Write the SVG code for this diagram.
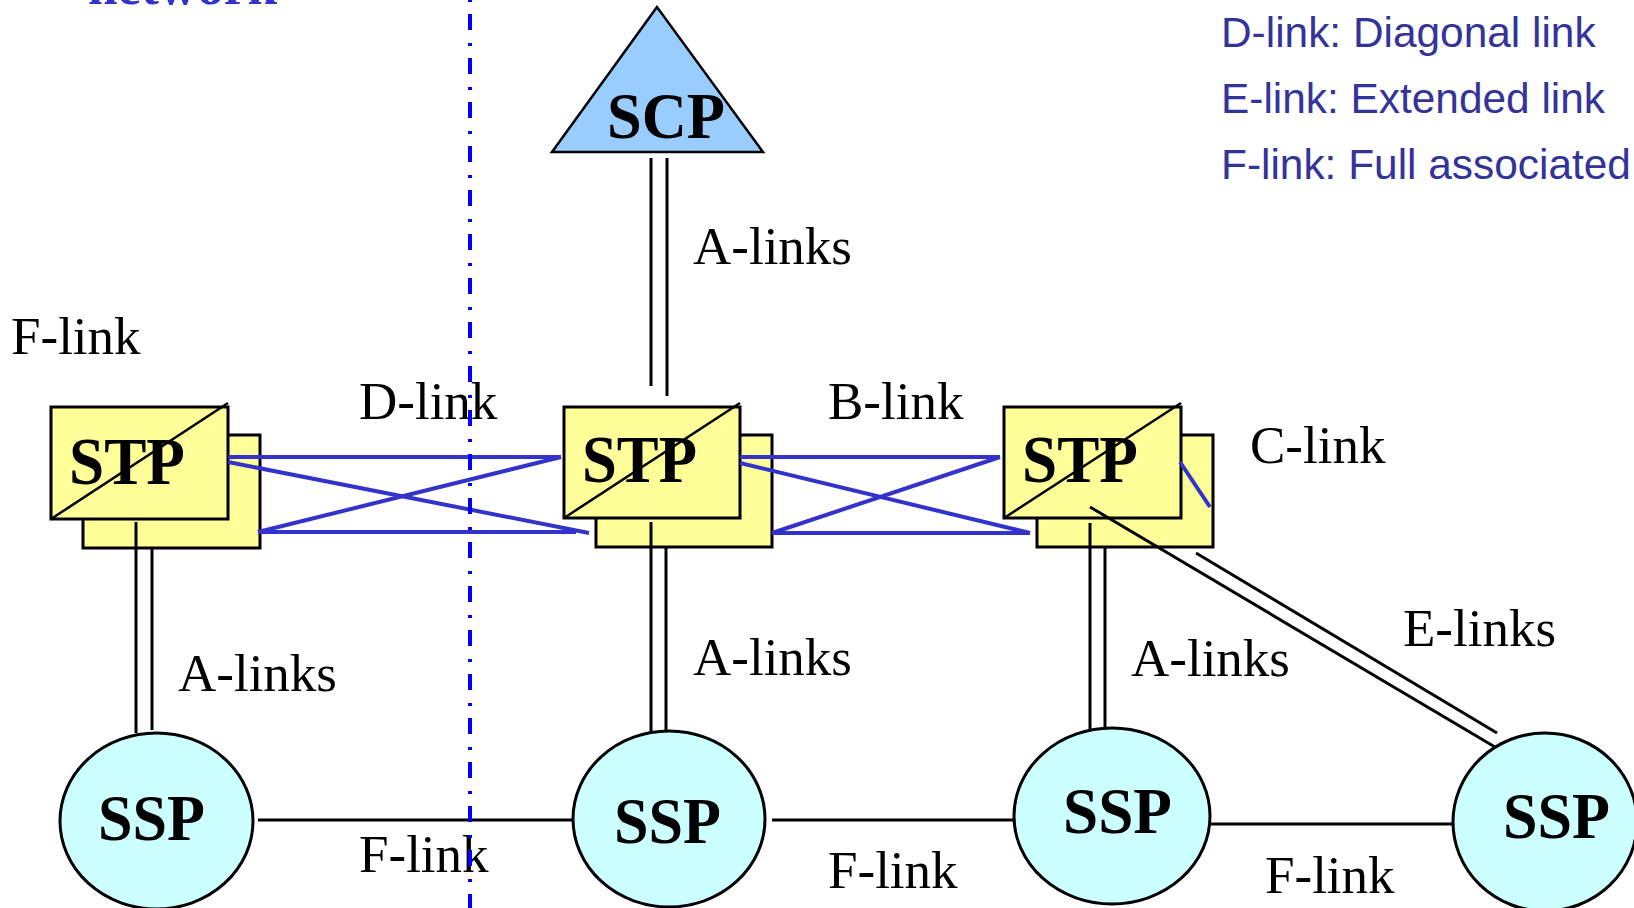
<svg xmlns="http://www.w3.org/2000/svg" width="1634" height="908" viewBox="0 0 1634 908">
<style>
.stp{fill:#ffff99;stroke:#000;stroke-width:3}
.ssp{fill:#ccffff;stroke:#000;stroke-width:3}
.scp{fill:#99ccff;stroke:#000;stroke-width:2.5}
.diag{stroke:#000;stroke-width:2.5;fill:none}
.blk{stroke:#000;stroke-width:3;fill:none}
.blu{stroke:#3333cc;stroke-width:4;fill:none}
.big{font-family:"Liberation Serif","Times New Roman",serif;font-weight:bold;fill:#000}
.lbl{font-family:"Liberation Serif","Times New Roman",serif;font-size:53px;fill:#000}
.leg{font-family:"Liberation Sans",Arial,sans-serif;font-size:42.4px;fill:#333399}
</style>
<rect width="1634" height="908" fill="#fff"/>
<text x="88" y="4" font-family="Liberation Serif, serif" font-weight="bold" font-size="53" fill="#3333cc" textLength="189" lengthAdjust="spacingAndGlyphs">network</text>

<g id="scp">
<polygon class="scp" points="657,7 552,152 763,152"/>
<text class="big" x="607" y="138" font-size="65" textLength="118" lengthAdjust="spacingAndGlyphs">SCP</text>
</g>

<g id="stp1">
<rect class="stp" x="83" y="435" width="177" height="113"/>
<rect class="stp" x="51" y="407" width="177" height="112"/>
<text class="big" x="69" y="484" font-size="68" textLength="116" lengthAdjust="spacingAndGlyphs">STP</text>
<line class="diag" x1="51" y1="519" x2="228" y2="403"/>
</g>
<g id="stp2">
<rect class="stp" x="596" y="435" width="176" height="112"/>
<rect class="stp" x="564" y="407" width="176" height="111"/>
<text class="big" x="582" y="482" font-size="68" textLength="115" lengthAdjust="spacingAndGlyphs">STP</text>
<line class="diag" x1="564" y1="518" x2="740" y2="403"/>
</g>
<g id="stp3">
<rect class="stp" x="1037" y="435" width="176" height="112"/>
<rect class="stp" x="1004" y="407" width="177" height="111"/>
<text class="big" x="1022" y="482" font-size="68" textLength="116" lengthAdjust="spacingAndGlyphs">STP</text>
<line class="diag" x1="1004" y1="518" x2="1181" y2="403"/>
</g>

<g id="connectors">
<line class="blk" x1="651" y1="158" x2="651" y2="386"/>
<line class="blk" x1="667" y1="158" x2="667" y2="396"/>
<line class="blu" x1="228" y1="457" x2="561" y2="457"/>
<line class="blu" x1="258" y1="532" x2="576" y2="532"/>
<line class="blu" x1="228" y1="462" x2="589" y2="533"/>
<line class="blu" x1="258" y1="532" x2="561" y2="457"/>
<line class="blu" x1="740" y1="457" x2="1000" y2="457"/>
<line class="blu" x1="772" y1="533" x2="1030" y2="533"/>
<line class="blu" x1="740" y1="463" x2="1030" y2="533"/>
<line class="blu" x1="772" y1="533" x2="1000" y2="457"/>
<line class="blu" x1="1180" y1="462" x2="1210" y2="507"/>
<line class="blk" x1="136" y1="522" x2="136" y2="733"/>
<line class="blk" x1="152" y1="548" x2="152" y2="730"/>
<line class="blk" x1="651" y1="522" x2="651" y2="733"/>
<line class="blk" x1="666" y1="547" x2="666" y2="731"/>
<line class="blk" x1="1090" y1="523" x2="1090" y2="732"/>
<line class="blk" x1="1105" y1="548" x2="1105" y2="728"/>
<line class="blk" x1="1090" y1="507" x2="1495" y2="747"/>
<line class="blk" x1="1196" y1="553" x2="1497" y2="733"/>
<line class="blk" x1="258" y1="820" x2="576" y2="820"/>
<line class="blk" x1="772" y1="820" x2="1014" y2="820"/>
<line class="blk" x1="1210" y1="824" x2="1454" y2="824"/>
</g>

<g id="ssp1">
<ellipse class="ssp" cx="156.5" cy="821" rx="96.5" ry="88"/>
<text class="big" x="98" y="840" font-size="66" textLength="107" lengthAdjust="spacingAndGlyphs">SSP</text>
</g>
<g id="ssp2">
<ellipse class="ssp" cx="669" cy="819" rx="96" ry="88"/>
<text class="big" x="614" y="843" font-size="66" textLength="107" lengthAdjust="spacingAndGlyphs">SSP</text>
</g>
<g id="ssp3">
<ellipse class="ssp" cx="1112" cy="816" rx="98" ry="88"/>
<text class="big" x="1063" y="833" font-size="66" textLength="109" lengthAdjust="spacingAndGlyphs">SSP</text>
</g>
<g id="ssp4">
<ellipse class="ssp" cx="1545" cy="822" rx="92" ry="89"/>
<text class="big" x="1503" y="838" font-size="66" textLength="107" lengthAdjust="spacingAndGlyphs">SSP</text>
</g>

<g id="labels">
<text class="lbl" x="693" y="264">A-links</text>
<text class="lbl" x="11" y="354">F-link</text>
<text class="lbl" x="359" y="419">D-link</text>
<text class="lbl" x="828" y="419">B-link</text>
<text class="lbl" x="1250" y="463">C-link</text>
<text class="lbl" x="178" y="691">A-links</text>
<text class="lbl" x="693" y="675">A-links</text>
<text class="lbl" x="1131" y="676">A-links</text>
<text class="lbl" x="1403" y="646">E-links</text>
<text class="lbl" x="359" y="872">F-link</text>
<text class="lbl" x="828" y="888">F-link</text>
<text class="lbl" x="1265" y="893">F-link</text>
</g>

<g id="legend">
<text class="leg" x="1221" y="47">D-link: Diagonal link</text>
<text class="leg" x="1221" y="113">E-link: Extended link</text>
<text class="leg" x="1221" y="179">F-link: Full associated</text>
</g>

<line x1="470" y1="0" x2="470" y2="908" stroke="#0000ff" stroke-width="4" stroke-dasharray="16 13 3 12" stroke-dashoffset="30"/>
</svg>
